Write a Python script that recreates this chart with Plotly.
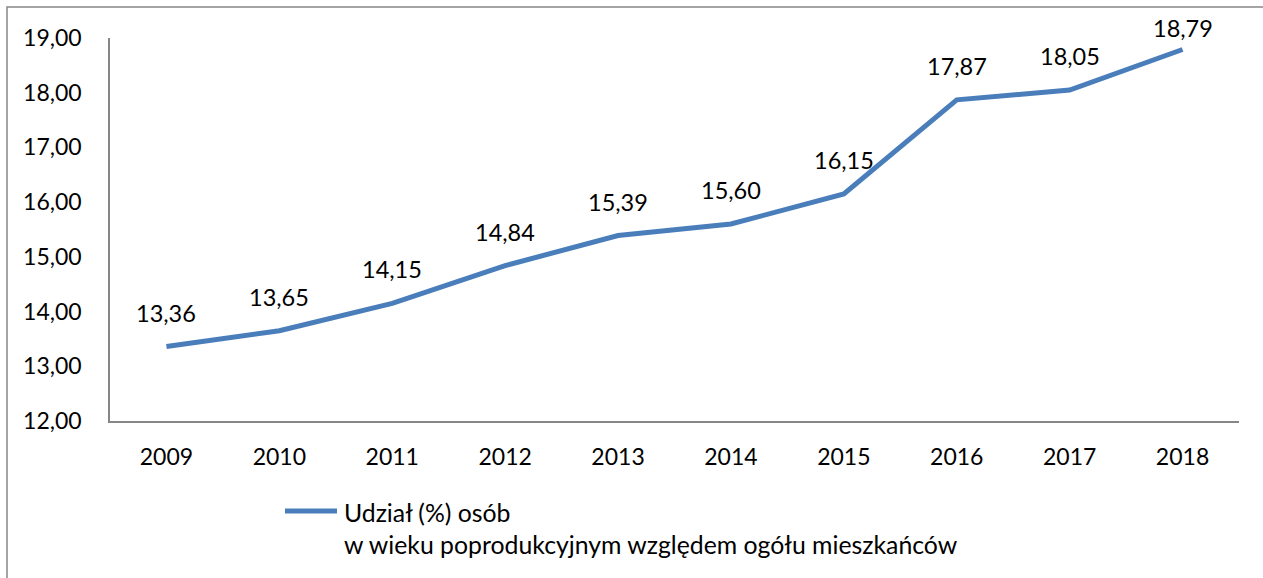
import plotly.graph_objects as go

years = [2009, 2010, 2011, 2012, 2013, 2014, 2015, 2016, 2017, 2018]
values = [13.36, 13.65, 14.15, 14.84, 15.39, 15.60, 16.15, 17.87, 18.05, 18.79]
series_name = "Udział (%) osób<br>w wieku poprodukcyjnym względem ogółu mieszkańców"
y_ticks = [12, 13, 14, 15, 16, 17, 18, 19]

FONT = "Lato"
LINE_COLOR = "#4a7ebb"
W, H = 1263, 578
ML, MR, MT, MB = 110, 24, 38, 157
Y0, Y1 = 12, 19
plot_h = H - MT - MB
plot_w = W - ML - MR


def px_x(p):
    return (p - ML) / plot_w


def px_y(p):
    return (H - MB - p) / plot_h


fig = go.Figure()
fig.add_trace(go.Scatter(
    x=years, y=values, mode="lines", name=series_name,
    line=dict(color=LINE_COLOR, width=5),
    hoverinfo="x+y", showlegend=False,
))

# data labels
for x, v in zip(years, values):
    y_px = MT + (Y1 - v) / (Y1 - Y0) * plot_h
    center = max(y_px - 34, 28)
    fig.add_annotation(
        x=x, y=v, xref="x", yref="y",
        text=f"{v:.2f}".replace(".", ","),
        showarrow=False, yshift=y_px - center,
        font=dict(family=FONT, size=23.5, color="#000000"),
    )

# outer border
fig.add_shape(
    type="rect", xref="paper", yref="paper",
    x0=px_x(7), x1=px_x(W + 10),
    y0=px_y(H + 10), y1=px_y(7),
    line=dict(color="#868686", width=1.5), layer="below",
)

# legend (Excel style: long line sample, text aligned to the first line)
fig.add_shape(
    type="line", xref="paper", yref="paper",
    x0=px_x(285), x1=px_x(337), y0=px_y(511), y1=px_y(511),
    line=dict(color=LINE_COLOR, width=5),
)
fig.add_annotation(
    xref="paper", yref="paper", x=px_x(342), y=px_y(528),
    xanchor="left", yanchor="middle", align="left",
    text=series_name, showarrow=False,
    font=dict(family=FONT, size=24.8, color="#000000"),
)

fig.update_layout(
    width=W, height=H,
    margin=dict(l=ML, r=MR, t=MT, b=MB),
    paper_bgcolor="white", plot_bgcolor="white",
    separators=", ",
    font=dict(family=FONT, size=23, color="#000000"),
    showlegend=False,
    xaxis=dict(
        range=[2008.5, 2018.5], tickmode="array", tickvals=years,
        ticktext=[str(y) for y in years],
        showgrid=False, zeroline=False, showline=True,
        linecolor="#868686", linewidth=1.5, ticks="",
        ticklabelstandoff=15,
    ),
    yaxis=dict(
        range=[Y0, Y1], tickmode="array", tickvals=y_ticks,
        tickformat=".2f",
        showgrid=False, zeroline=False, showline=True,
        linecolor="#868686", linewidth=1.5, ticks="",
        ticklabelstandoff=22,
    ),
)

fig.write_html(
    "out.html",
    config={"displayModeBar": False},
    post_script="document.body.style.margin='0px';",
)
